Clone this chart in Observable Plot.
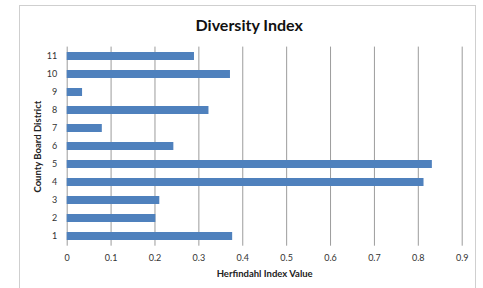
<!DOCTYPE html>
<html>
<head>
<meta charset="utf-8">
<script src="https://cdn.jsdelivr.net/npm/d3@7"></script>
<script src="https://cdn.jsdelivr.net/npm/@observablehq/plot@0.6"></script>
<style>
  html, body { margin: 0; padding: 0; background: #fff; }
  #wrap { position: relative; width: 483px; height: 288px; overflow: hidden; }
  #frame { position: absolute; left: 19px; top: 5px; width: 457px; height: 300px; border: 1px solid #cfcfcf; box-sizing: border-box; }
  #chart { position: absolute; left: 0; top: 0; }
</style>
</head>
<body>
<div id="wrap"><div id="frame"></div><div id="chart"></div></div>
<script>
const title = "Diversity Index";
const xLabel = "Herfindahl Index Value";
const yLabel = "County Board District";
const districts = ["1", "2", "3", "4", "5", "6", "7", "8", "9", "10", "11"];
const values = [0.377, 0.202, 0.211, 0.813, 0.832, 0.243, 0.080, 0.323, 0.035, 0.372, 0.290];
const xTicks = [0, 0.1, 0.2, 0.3, 0.4, 0.5, 0.6, 0.7, 0.8, 0.9];

const data = districts.map((d, i) => ({district: d, value: values[i]}));
const font = "Lato, 'Open Sans', sans-serif";

const chart = Plot.plot({
  width: 483,
  height: 288,
  marginTop: 46.6,
  marginBottom: 42.3,
  marginLeft: 66.7,
  marginRight: 21.3,
  style: {fontFamily: font, fontSize: "9px", color: "#333", background: "transparent"},
  x: {domain: [0, 0.9], ticks: xTicks, tickFormat: d => d === 0 ? "0" : d.toFixed(1), label: null},
  y: {domain: districts.slice().reverse(), paddingInner: 0.54, paddingOuter: 0.27, label: null},
  marks: [
    Plot.ruleX(xTicks, {stroke: "#9c9c9c", strokeWidth: 1}),
    Plot.barX(data, {x: "value", y: "district", fill: "#4f81bd"}),
    Plot.axisX({ticks: xTicks, tickSize: 0, tickPadding: 8, tickFormat: d => d === 0 ? "0" : d.toFixed(1), label: null, fontSize: 9}),
    Plot.axisY({tickSize: 0, tickPadding: 10, label: null, fontSize: 9}),
    Plot.text([xLabel], {frameAnchor: "bottom", dy: 27.5, lineAnchor: "middle", textAnchor: "middle", text: d => d, fontWeight: "bold", fontSize: 9.5, fill: "#222"}),
    Plot.text([yLabel], {frameAnchor: "left", dx: -29, rotate: -90, textAnchor: "middle", lineAnchor: "middle", text: d => d, fontWeight: "bold", fontSize: 9.5, fill: "#222"}),
    Plot.text([title], {frameAnchor: "top", dx: -15.5, dy: -21.6, lineAnchor: "middle", textAnchor: "middle", text: d => d, fontWeight: "bold", fontSize: 16, fill: "#111"})
  ]
});
document.getElementById("chart").appendChild(chart);
</script>
</body>
</html>
